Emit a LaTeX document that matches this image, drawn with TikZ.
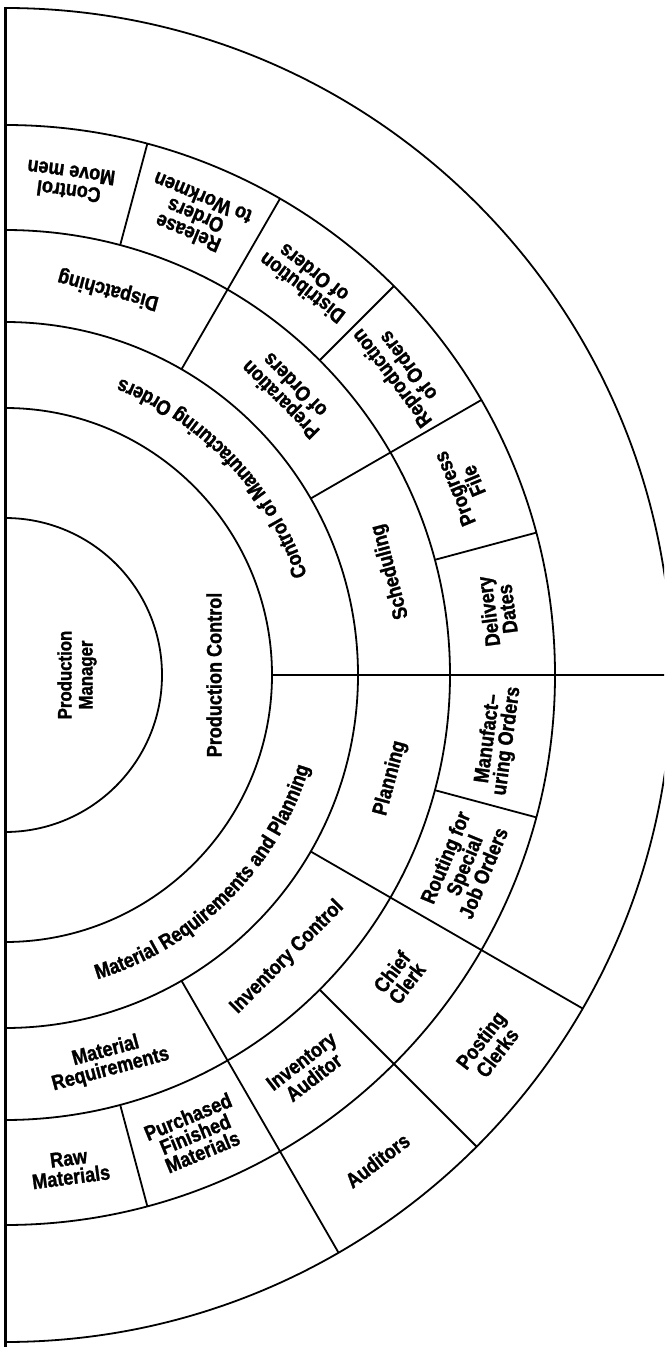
\documentclass[tikz,border=0pt]{standalone}
\usepackage{fontspec}
\setmainfont{Liberation Sans}
\newfontfamily\lblfont{Liberation Sans}[FakeStretch=0.86, FakeBold=1.3]
\usetikzlibrary{decorations.text}
\newcommand\arcfont{\lblfont\bfseries\fontsize{21}{19}\selectfont}
\begin{document}
\begin{tikzpicture}[x=1pt,y=1pt,line join=round,
  ln/.style={line width=1.8pt},
  heavy/.style={line width=2.4pt},
  lbl/.style={font=\lblfont\bfseries\fontsize{21}{19}\selectfont, align=center, inner sep=0pt}]
\useasboundingbox (-5,-674) rectangle (659,675);
\clip (-5,-674) rectangle (659,675);
\fill[white] (-5,-674) rectangle (659,675);
% left border
\draw[heavy] (0.5,668) -- (0.5,-672);
% rings
\foreach \r in {157,267,353,445,550,667}
  \draw[ln] (90:\r) arc[start angle=90, end angle=-90, radius=\r];
% horizontal divider
\draw[heavy] (0:267) -- (0:690);
% radial dividers, upper half
\draw[ln] (75:445) -- (75:550);
\draw[ln] (60:353) -- (60:550);
\draw[ln] (45:445) -- (45:550);
\draw[ln] (30:353) -- (30:550);
\draw[ln] (15:445) -- (15:550);
% radial dividers, lower half
\draw[ln] (-15:445) -- (-15:550);
\draw[ln] (-30:353) -- (-30:667);
\draw[ln] (-45:445) -- (-45:667);
\draw[ln] (-60:353) -- (-60:667);
\draw[ln] (-75:445) -- (-75:550);
% centre
\node[lbl, font=\lblfont\bfseries\fontsize{19.5}{21}\selectfont, rotate=90] (pm) at (0:72) {Production\\Manager};
\node[lbl, rotate=90] (pc) at (0:209) {Production Control};
% curved labels
\path[decorate, decoration={text along path, text align=center,
  text={|\arcfont|Control of Manufacturing Orders}}]
  (2:318) arc[start angle=2, end angle=85, radius=318];
\path[decorate, decoration={text along path, text align=center,
  text={|\arcfont|Material Requirements and Planning}}]
  (-87:318) arc[start angle=-87, end angle=-3, radius=318];
% upper ring R2-R3
\node[lbl, rotate=165] (disp) at (75:399) {Dispatching};
\node[lbl, rotate=135] (prep) at (45:399) {Preparation\\of Orders};
\node[lbl, rotate=105] (sched) at (15:399) {Scheduling};
% upper ring R3-R4
\node[lbl, rotate=172.5] (cmm) at (82.5:497) {Control\\Move men};
\node[lbl, rotate=157.5] (rel) at (67.5:497) {Release\\Orders\\to Workmen};
\node[lbl, rotate=142.5] (dist) at (52.5:497) {Distribution\\of Orders};
\node[lbl, rotate=127.5] (repr) at (37.5:497) {Reproduction\\of Orders};
\node[lbl, rotate=112.5] (prog) at (22.5:497) {Progress\\File};
\node[lbl, rotate=97.5] (deliv) at (7.5:497) {Delivery\\Dates};
% lower ring R2-R3
\node[lbl, rotate=75] (plan) at (-15:399) {Planning};
\node[lbl, rotate=45] (invc) at (-45:399) {Inventory Control};
\node[lbl, rotate=15] (mreq) at (-75:399) {Material\\Requirements};
% lower ring R3-R4
\node[lbl, rotate=82.5] (mfo) at (-7.5:497) {Manufact\textendash\\uring Orders};
\node[lbl, rotate=67.5] (rout) at (-22.5:497) {Routing for\\Special\\Job Orders};
\node[lbl, rotate=52.5] (chief) at (-37.5:497) {Chief\\Clerk};
\node[lbl, rotate=37.5] (invaud) at (-52.5:497) {Inventory\\Auditor};
\node[lbl, rotate=22.5] (purch) at (-67.5:497) {Purchased\\Finished\\Materials};
\node[lbl, rotate=7.5] (raw) at (-82.5:497) {Raw\\Materials};
% lower ring R4-R5
\node[lbl, rotate=52.5] (post) at (-37.5:610) {Posting\\Clerks};
\node[lbl, rotate=37.5] (aud) at (-52.5:612) {Auditors};
\end{tikzpicture}
\end{document}
